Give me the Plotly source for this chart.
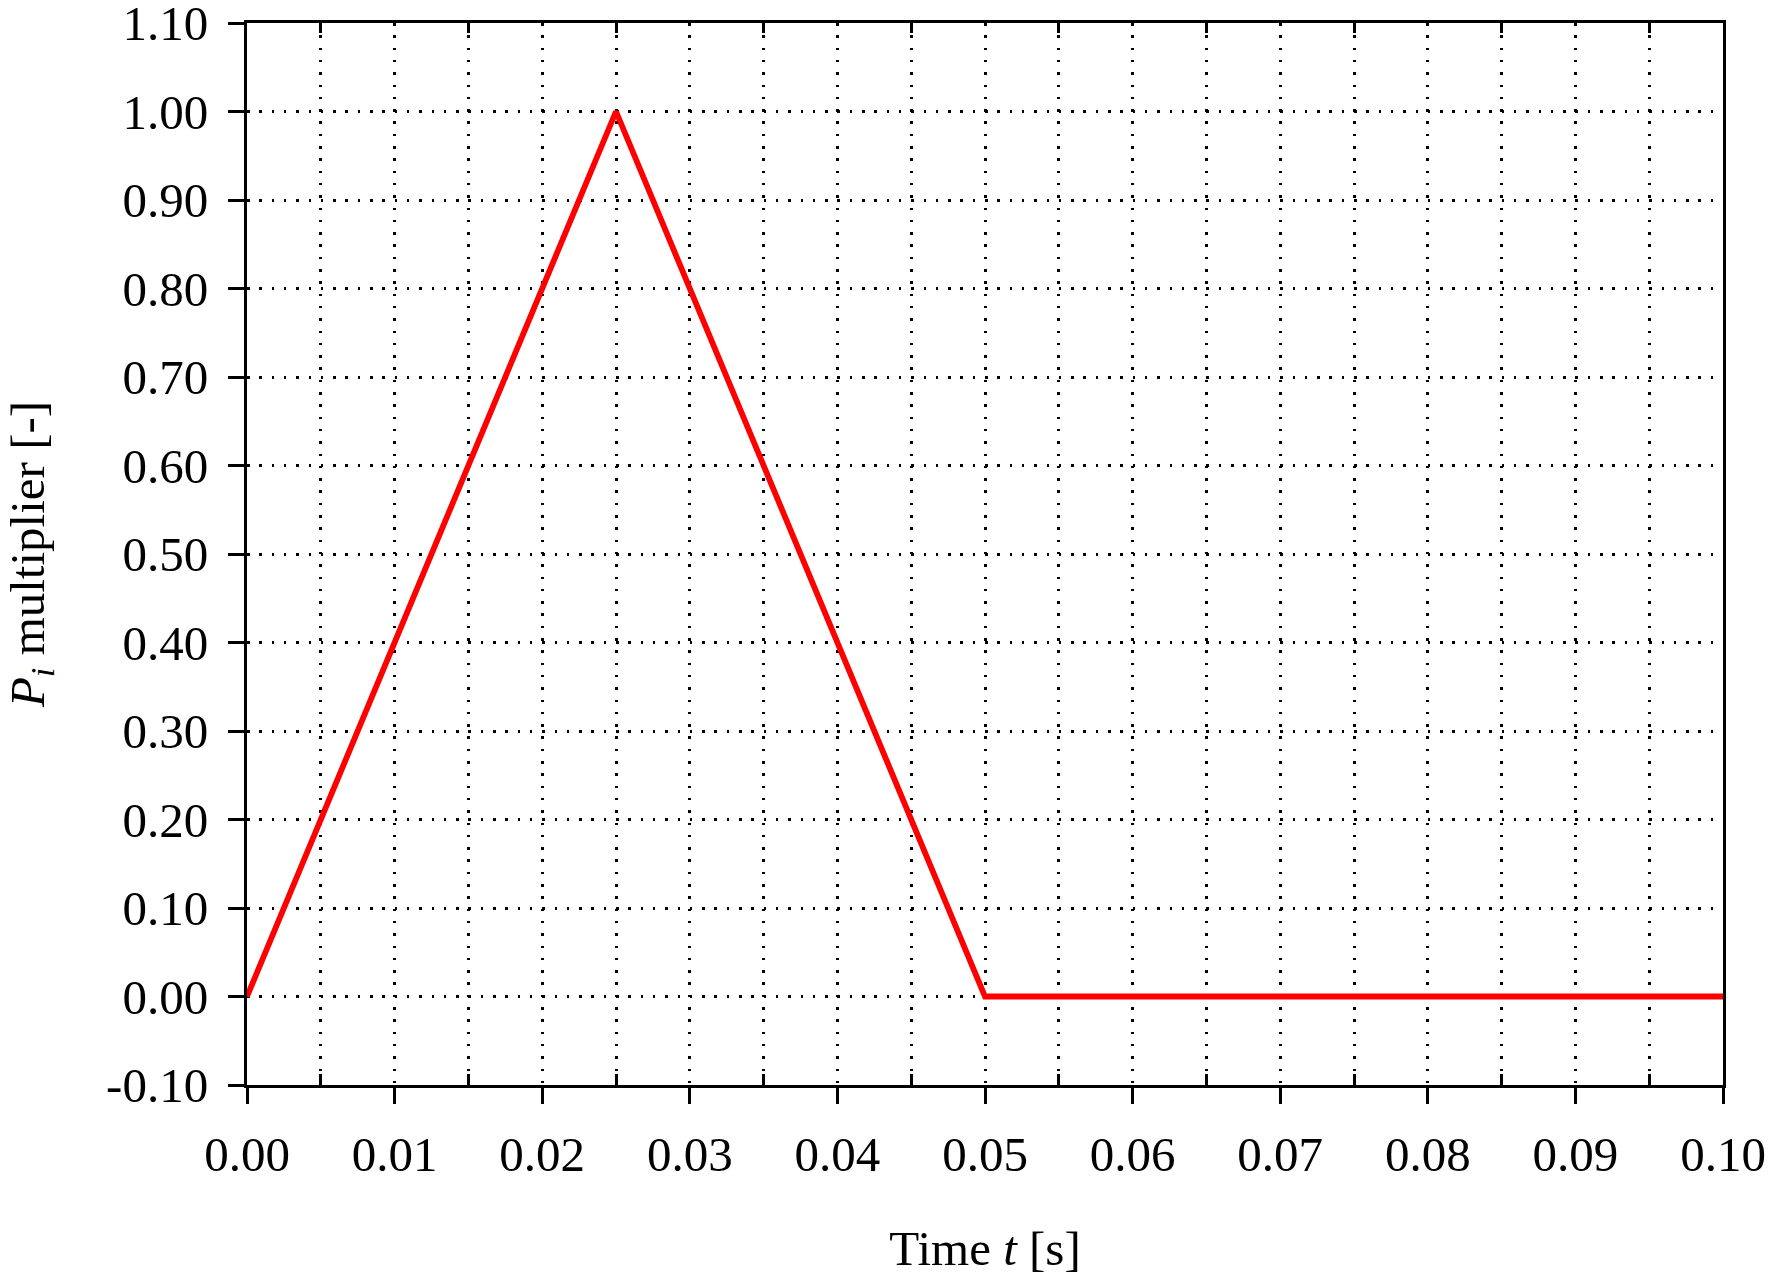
import plotly.graph_objects as go

# Data
time_s = [0.0, 0.025, 0.05, 0.1]
multiplier = [0.0, 1.0, 0.0, 0.0]

x_major_ticks = [0.00, 0.01, 0.02, 0.03, 0.04, 0.05, 0.06, 0.07, 0.08, 0.09, 0.10]
x_tick_labels = ["0.00", "0.01", "0.02", "0.03", "0.04", "0.05", "0.06", "0.07", "0.08", "0.09", "0.10"]
x_minor_ticks = [0.005, 0.015, 0.025, 0.035, 0.045, 0.055, 0.065, 0.075, 0.085, 0.095]
y_ticks = [-0.1, 0.0, 0.1, 0.2, 0.3, 0.4, 0.5, 0.6, 0.7, 0.8, 0.9, 1.0, 1.1]
y_tick_labels = ["-0.10", "0.00", "0.10", "0.20", "0.30", "0.40", "0.50",
                 "0.60", "0.70", "0.80", "0.90", "1.00", "1.10"]

FONT = "Liberation Serif, Times New Roman, serif"
FS = 49
GRID_DASH = "2.5px,9.8px"

fig = go.Figure()
fig.add_trace(go.Scatter(
    x=time_s, y=multiplier, mode="lines",
    line=dict(color="#ff0000", width=5.8),
    showlegend=False, hoverinfo="skip",
))
# invisible trace to bind top axis
fig.add_trace(go.Scatter(x=[time_s[0]], y=[multiplier[0]], xaxis="x2", mode="markers",
                         marker=dict(opacity=0), showlegend=False, hoverinfo="skip"))

fig.update_layout(
    width=1769, height=1278,
    margin=dict(l=247, r=46, t=23, b=193),
    paper_bgcolor="white", plot_bgcolor="white",
    font=dict(family=FONT, size=FS, color="black"),
    xaxis=dict(
        range=[0, 0.1], automargin=False,
        tickmode="array", tickvals=x_major_ticks, ticktext=x_tick_labels,
        ticks="outside", ticklen=16, tickwidth=3, tickcolor="black",
        ticklabelstandoff=8, ticklabeloverflow="allow",
        showline=True, linewidth=3, linecolor="black", mirror=True,
        showgrid=True, gridcolor="black", gridwidth=2.5, griddash=GRID_DASH,
        zeroline=False,
        minor=dict(tickvals=x_minor_ticks, ticks="inside", ticklen=11, tickwidth=3,
                   tickcolor="black", showgrid=True, gridcolor="black",
                   gridwidth=2.5, griddash=GRID_DASH),
        title=dict(text="Time <i>t</i> [s]", font=dict(family=FONT, size=FS), standoff=50),
    ),
    xaxis2=dict(
        range=[0, 0.1], overlaying="x", side="top", anchor="y", automargin=False,
        tickmode="array", tickvals=x_minor_ticks,
        ticks="inside", ticklen=10, tickwidth=3, tickcolor="black",
        showticklabels=False, showgrid=False, zeroline=False, showline=False,
    ),
    yaxis=dict(
        range=[-0.1, 1.1], automargin=False,
        tickmode="array", tickvals=y_ticks, ticktext=y_tick_labels,
        ticks="outside", ticklen=16, tickwidth=3, tickcolor="black",
        ticklabelstandoff=10, ticklabeloverflow="allow",
        showline=True, linewidth=3, linecolor="black", mirror=True,
        showgrid=True, gridcolor="black", gridwidth=2.5, griddash=GRID_DASH,
        zeroline=False,
        title=dict(text="<i>P</i><sub><i>i</i></sub> multiplier [-]",
                   font=dict(family=FONT, size=FS), standoff=62),
    ),
)

fig.write_html("out.html", config={"displayModeBar": False},
               post_script="document.body.style.margin='0';")
